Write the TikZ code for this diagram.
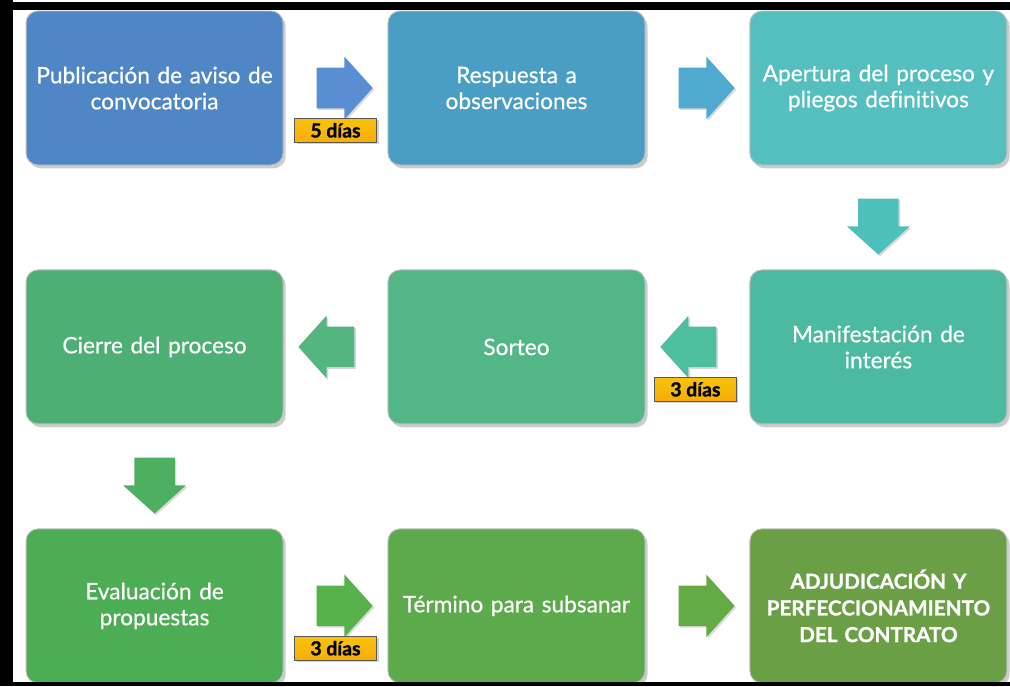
\documentclass[tikz,border=0pt]{standalone}
\usepackage{fontspec}
\setmainfont{Lato}[Ligatures=NoCommon]
\newfontfamily\medio{Lato}[Ligatures=NoCommon, FakeBold=0.6]
\newfontfamily\grueso{Lato}[Ligatures=NoCommon, BoldFeatures={FakeBold=1.2}]
\usetikzlibrary{positioning,calc,shapes.arrows,shadows}

\definecolor{bA}{HTML}{4F86C6}
\definecolor{bB}{HTML}{4A9EC4}
\definecolor{bC}{HTML}{55BEBE}
\definecolor{bD}{HTML}{4CBAA0}
\definecolor{bE}{HTML}{52B687}
\definecolor{bF}{HTML}{4DAF74}
\definecolor{bG}{HTML}{4DAD55}
\definecolor{bH}{HTML}{5DAA4C}
\definecolor{bI}{HTML}{6A9F45}
\definecolor{fA}{HTML}{5A8ED2}
\definecolor{fB}{HTML}{50A9CF}
\definecolor{fC}{HTML}{4EC0BC}
\definecolor{fD}{HTML}{4DBE9E}
\definecolor{fE}{HTML}{55B580}
\definecolor{fF}{HTML}{4DB060}
\definecolor{fG}{HTML}{57B24C}
\definecolor{fH}{HTML}{64AB46}
\definecolor{oro}{HTML}{F5B50C}

\begin{document}
\begin{tikzpicture}[
  node distance=78pt,
  paso/.style={draw=white!75!black, line width=0.7pt, rounded corners=9pt,
    minimum width=192.75pt, minimum height=115.5pt, text width=185pt,
    align=center, text=white, font=\medio\fontsize{17}{19.5}\selectfont,
    drop shadow={opacity=0.4, shadow xshift=2pt, shadow yshift=-2.5pt}},
  flecha/.style={single arrow, inner sep=0pt, inner ysep=15pt,
    minimum height=42pt, single arrow head extend=8.25pt,
    single arrow tip angle=96,
    drop shadow={opacity=0.3, shadow xshift=1.2pt, shadow yshift=-1.2pt}},
  dias/.style={draw=black!65, line width=0.5pt, top color=oro!80!yellow,
    bottom color=oro!85!orange, minimum width=61.5pt, minimum height=18pt,
    inner sep=0pt, font=\grueso\bfseries\fontsize{14.5}{16}\selectfont,
    drop shadow={opacity=0.35, shadow xshift=1.5pt, shadow yshift=-1.5pt}}
]
\useasboundingbox (0,0) rectangle (757.5pt,-514.5pt);

% pasos
\node[paso, fill=bA] (pub) at (115.9pt,-66pt) {Publicación de aviso de\\convocatoria};
\node[paso, fill=bB, right=of pub] (resp) {Respuesta a\\observaciones};
\node[paso, fill=bC, right=of resp] (aper) {Apertura del proceso y\\pliegos definitivos};
\node[paso, fill=bD, below=of aper] (mani) {Manifestación de\\interés};
\node[paso, fill=bE, left=of mani] (sort) {Sorteo};
\node[paso, fill=bF, left=of sort] (cier) {Cierre del proceso};
\node[paso, fill=bG, below=of cier] (eval) {Evaluación de\\propuestas};
\node[paso, fill=bH, right=of eval] (term) {Término para subsanar};
\node[paso, fill=bI, right=of term, font=\grueso\bfseries\fontsize{15.5}{20}\selectfont] (adju)
  {ADJUDICACIÓN Y\\PERFECCIONAMIENTO\\DEL CONTRATO};

% flechas
\node[flecha, fill=fA] (f1) at ($(pub.east)!0.5!(resp.west)$) {};
\node[flecha, fill=fB] (f2) at ($(resp.east)!0.5!(aper.west)$) {};
\node[flecha, fill=fC, rotate=-90] (f3) at ($(aper.south)!0.5!(mani.north)$) {};
\node[flecha, fill=fD, rotate=180] (f4) at ($(mani.west)!0.5!(sort.east)$) {};
\node[flecha, fill=fE, rotate=180] (f5) at ($(sort.west)!0.5!(cier.east)$) {};
\node[flecha, fill=fF, rotate=-90] (f6) at ($(cier.south)!0.5!(eval.north)$) {};
\node[flecha, fill=fG] (f7) at ($(eval.east)!0.5!(term.west)$) {};
\node[flecha, fill=fH] (f8) at ($(term.east)!0.5!(adju.west)$) {};

% plazos
\node[dias, below=22.5pt of f1.center] (d1) {5 días};
\node[dias, below=22.5pt of f4.center, xshift=-1.5pt] (d2) {3 días};
\node[dias, below=22.5pt of f7.center] (d3) {3 días};

% marco
\fill[black] (0,-1.5pt) rectangle (757.5pt,-7.5pt);
\fill[black] (0,0) rectangle (9.75pt,-514.5pt);
\fill[black] (0,-511.5pt) rectangle (757.5pt,-514.5pt);
\end{tikzpicture}
\end{document}
